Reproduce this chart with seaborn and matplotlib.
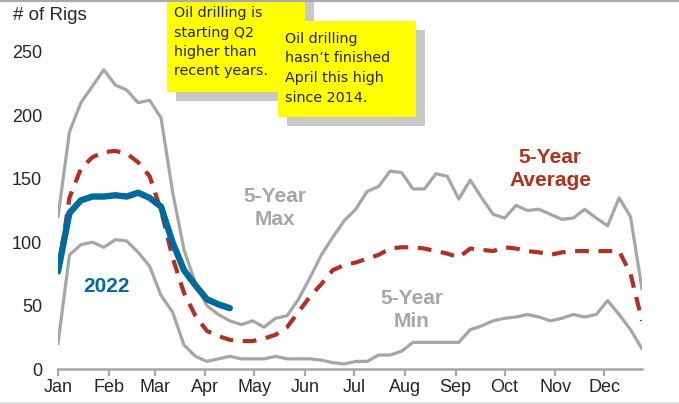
import numpy as np
import pandas as pd
import matplotlib
matplotlib.use('Agg')
import matplotlib.pyplot as plt
import seaborn as sns
from matplotlib.patches import Rectangle
from matplotlib.lines import Line2D

# weekly oil rig counts (week index 0..51)
weeks = list(range(52))

max_rigs = [120, 187, 210, 223, 236, 224, 220, 210, 212, 198,
            140, 94, 68, 50, 43, 38, 35, 38, 33, 40,
            42, 55, 72, 90, 104, 117, 126, 140, 144, 156,
            155, 142, 142, 154, 152, 134, 149, 135, 122, 119,
            129, 125, 126, 122, 118, 119, 126, 119, 113, 135,
            120, 63]

avg_rigs = [75, 135, 158, 167, 171, 172, 170, 163, 152, 125,
            88, 60, 42, 30, 26, 23, 22, 22, 24, 27,
            33, 45, 57, 67, 78, 82, 84, 87, 90, 95,
            96, 96, 95, 93, 91, 88, 95, 94, 93, 96,
            95, 93, 92, 90, 92, 93, 93, 93, 93, 93,
            75, 38]

min_rigs = [20, 90, 98, 100, 96, 102, 101, 92, 81, 58,
            45, 19, 10, 6, 8, 10, 8, 8, 8, 10,
            8, 8, 8, 7, 5, 4, 6, 6, 11, 11,
            14, 21, 21, 21, 21, 21, 31, 34, 38, 40,
            41, 43, 41, 38, 40, 43, 41, 43, 54, 43,
            31, 16]

rigs_2022 = [77, 123, 133, 136, 136, 137, 136, 139, 135, 128,
             100, 78, 66, 55, 51, 48]

month_labels = ['Jan', 'Feb', 'Mar', 'Apr', 'May', 'Jun',
                'Jul', 'Aug', 'Sep', 'Oct', 'Nov', 'Dec']
month_start_day = [0, 31, 59, 90, 120, 151, 181, 212, 243, 273, 304, 334]

gray = '#A6A6A6'
red = '#B2301F'
blue = '#006A9B'

sns.set_style('white')
plt.rcParams['font.family'] = ['Liberation Sans', 'DejaVu Sans']

W, H = 679, 404
fig = plt.figure(figsize=(W / 100, H / 100), dpi=100)
ax = fig.add_axes([58 / W, 1 - 369 / H, (642 - 58) / W, (369 - 52) / H])

sns.lineplot(x=weeks, y=max_rigs, ax=ax, color=gray, linewidth=2.3)
sns.lineplot(x=weeks, y=min_rigs, ax=ax, color=gray, linewidth=2.3)
sns.lineplot(x=weeks, y=avg_rigs, ax=ax, color=red, linewidth=3.0,
             linestyle=(0, (3.3, 2.3)))
sns.lineplot(x=weeks[:len(rigs_2022)], y=rigs_2022, ax=ax, color=blue,
             linewidth=4.6, solid_capstyle='round')

ax.set_xlim(0, 51)
ax.set_ylim(0, 250)
ax.set_yticks([0, 50, 100, 150, 200, 250])
ax.set_xticks([d / 7 for d in month_start_day])
ax.set_xticklabels(month_labels)
ax.tick_params(axis='y', length=0, pad=11.5, labelsize=13)
ax.tick_params(axis='x', length=5, width=1.6, color=gray, pad=2.5,
               labelsize=13, direction='out', bottom=True)
for side in ['top', 'right', 'left']:
    ax.spines[side].set_visible(False)
ax.spines['bottom'].set_color(gray)
ax.spines['bottom'].set_linewidth(1.8)
ax.set_xlabel('')
ax.set_ylabel('')

fig.text(13 / W, 1 - 16 / H, '# of Rigs', fontsize=13.5, va='center', ha='left')

# series labels
lbl = dict(fontsize=15, fontweight='bold', ha='center', va='center',
           linespacing=1.33)
fig.text(275 / W, 1 - 208 / H, '5-Year\nMax', color=gray, **lbl)
fig.text(412 / W, 1 - 310 / H, '5-Year\nMin', color=gray, **lbl)
fig.text(550 / W, 1 - 169 / H, '5-Year\nAverage', color=red, **lbl)
fig.text(106 / W, 1 - 287 / H, '2022', color=blue, **lbl)

# call-out boxes with drop shadows
def callout(x0, y0, x1, y1, text, tx, ty):
    fig.add_artist(Rectangle(((x0 + 9) / W, 1 - (y1 + 9) / H), (x1 - x0) / W,
                             (y1 - y0) / H, transform=fig.transFigure,
                             facecolor='#C8C8C8', edgecolor='none'))
    fig.add_artist(Rectangle((x0 / W, 1 - y1 / H), (x1 - x0) / W,
                             (y1 - y0) / H, transform=fig.transFigure,
                             facecolor='#FFFF00', edgecolor='none'))
    fig.text(tx / W, 1 - ty / H, text, fontsize=10.3, va='top', ha='left',
             linespacing=1.5, family=['DejaVu Sans'])

callout(167, -10, 305, 92,
        'Oil drilling is\nstarting Q2\nhigher than\nrecent years.', 174, 6)
callout(278, 21, 416, 117,
        'Oil drilling\nhasn\u2019t finished\nApril this high\nsince 2014.', 285, 32)

# figure border lines
fig.add_artist(Line2D([0, 1], [1 - 1 / H, 1 - 1 / H], transform=fig.transFigure,
                      color='#AAAAAA', linewidth=1.6))
fig.add_artist(Line2D([0, 1], [1.5 / H, 1.5 / H], transform=fig.transFigure,
                      color='#DDDDDD', linewidth=2.2))

fig.savefig('out.png', dpi=100)
